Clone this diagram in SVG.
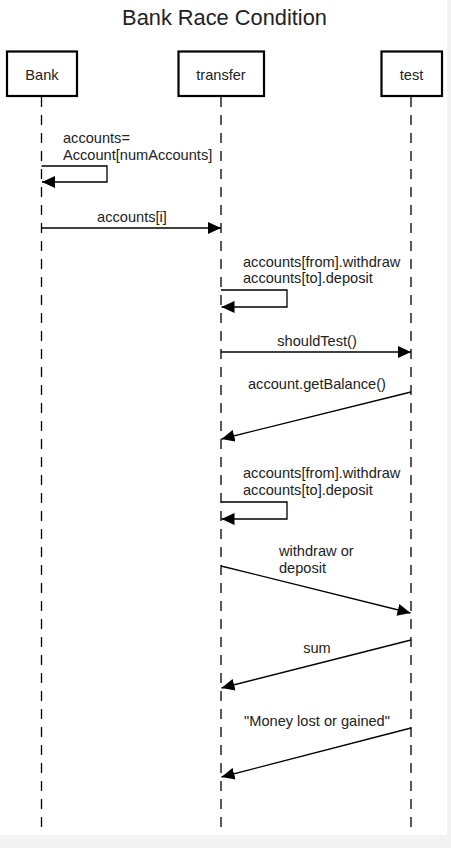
<svg xmlns="http://www.w3.org/2000/svg" width="451" height="848" viewBox="0 0 451 848">
<defs>
<style>
text{font-family:"Liberation Sans",Arial,sans-serif;fill:#222}
.lbl{font-size:14.6px}
.box{fill:#fff;stroke:#000;stroke-width:2.2}
.life{stroke:#000;stroke-width:1.3;stroke-dasharray:10 8;fill:none}
.msg{stroke:#000;stroke-width:1.3;fill:none;marker-end:url(#ah)}
</style>
<marker id="ah" markerWidth="14" markerHeight="12" viewBox="0 0 14 12" refX="13" refY="6" orient="auto" markerUnits="userSpaceOnUse">
<path d="M0,0 L13,6 L0,12 Z" fill="#000"/>
</marker>
</defs>
<rect x="0" y="0" width="451" height="848" fill="#f3f3f3"/>
<rect x="0" y="0" width="447" height="835" fill="#fff"/>
<text x="224.5" y="25" font-size="21.8" text-anchor="middle">Bank Race Condition</text>
<g id="lifelines">
<line class="life" x1="41.5" y1="97" x2="41.5" y2="835"/>
<line class="life" x1="221" y1="97" x2="221" y2="835"/>
<line class="life" x1="411" y1="97" x2="411" y2="835"/>
</g>
<g id="Bank">
<rect class="box" x="7" y="51.5" width="70" height="44.5"/>
<text class="lbl" x="42" y="80" text-anchor="middle">Bank</text>
</g>
<g id="transfer">
<rect class="box" x="178.5" y="51.5" width="85.5" height="44.5"/>
<text class="lbl" x="221" y="80" text-anchor="middle">transfer</text>
</g>
<g id="test">
<rect class="box" x="381.5" y="51.5" width="60.5" height="44.5"/>
<text class="lbl" x="411.5" y="80" text-anchor="middle">test</text>
</g>
<g id="connectors">
<path class="msg" d="M41.5,166 H107 V182 H42"/>
<text class="lbl" x="63" y="143">accounts=</text>
<text class="lbl" x="63" y="160">Account[numAccounts]</text>

<path class="msg" d="M41.5,228 H221"/>
<text class="lbl" x="132" y="222" text-anchor="middle">accounts[i]</text>

<path class="msg" d="M221,290 H287 V307 H221.5"/>
<text class="lbl" x="243" y="267">accounts[from].withdraw</text>
<text class="lbl" x="243" y="283">accounts[to].deposit</text>

<path class="msg" d="M221,352 H411"/>
<text class="lbl" x="317" y="346" text-anchor="middle">shouldTest()</text>

<path class="msg" d="M411,392 L221.5,439"/>
<text class="lbl" x="248" y="389">account.getBalance()</text>

<path class="msg" d="M221,502 H287 V519 H221.5"/>
<text class="lbl" x="243" y="478">accounts[from].withdraw</text>
<text class="lbl" x="243" y="495">accounts[to].deposit</text>

<path class="msg" d="M221,566 L410.5,613"/>
<text class="lbl" x="279" y="556">withdraw or</text>
<text class="lbl" x="279" y="573">deposit</text>

<path class="msg" d="M411,640 L221.5,688"/>
<text class="lbl" x="317" y="653" text-anchor="middle">sum</text>

<path class="msg" d="M411,728 L221.5,777"/>
<text class="lbl" x="317" y="726" text-anchor="middle">"Money lost or gained"</text>
</g>
</svg>
